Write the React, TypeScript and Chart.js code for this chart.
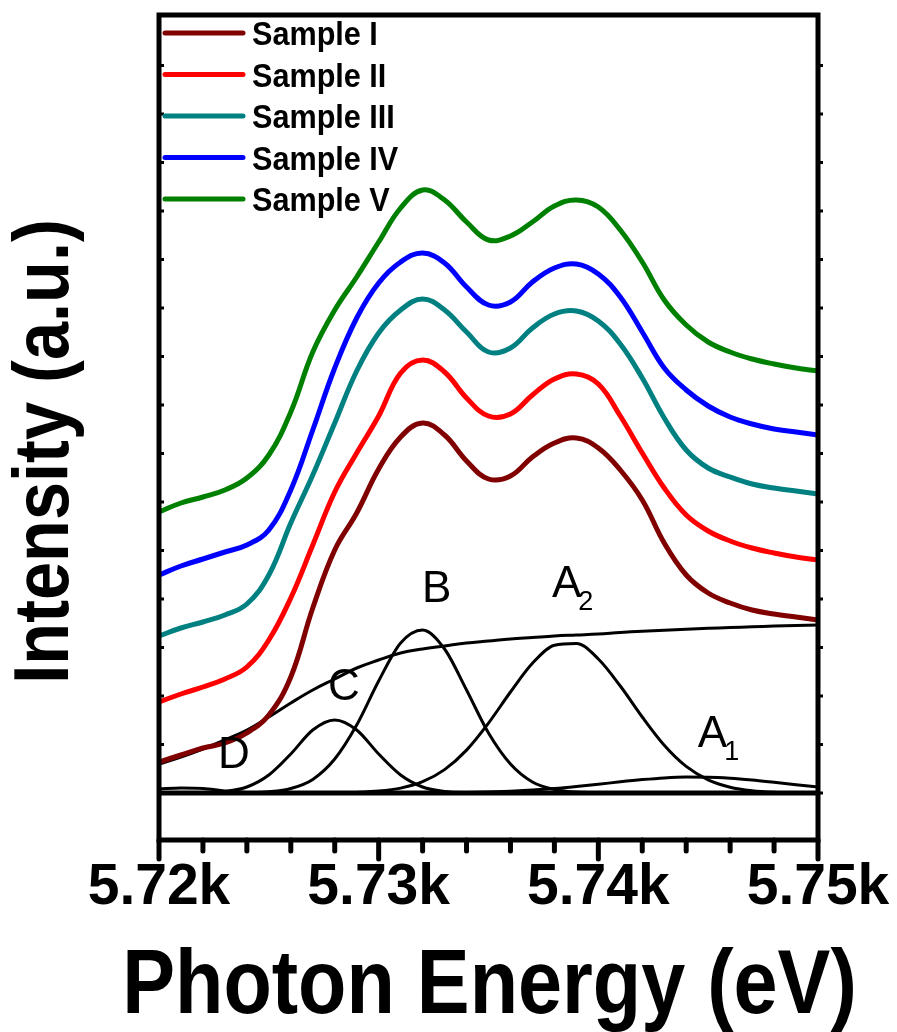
import React, { useEffect, useRef } from "react";
import { Chart, registerables } from "chart.js";

Chart.register(...registerables);

// Photon energy (eV)
const ENERGY = [
  5720, 5721, 5722, 5723, 5724, 5725, 5726, 5727, 5728, 5729, 5730,
  5731, 5732, 5733, 5734, 5735, 5736, 5737, 5738, 5739, 5740,
  5741, 5742, 5743, 5744, 5745, 5746, 5747, 5748, 5749, 5750,
];

// Spectra (arbitrary units, stacked)
const SAMPLE_I = [31, 38, 45, 50, 60, 78, 116, 185, 243, 280, 324, 356, 370, 358, 332, 314, 317, 336, 350, 355, 345, 323, 293, 250, 218, 200, 190, 183, 179, 176, 173];
const SAMPLE_II = [91, 99, 106, 114, 126, 153, 195, 248, 301, 340, 377, 420, 433, 421, 395, 377, 379, 398, 414, 419, 409, 377, 340, 305, 278, 262, 252, 245, 240, 236, 233];
const SAMPLE_III = [157, 165, 171, 178, 189, 218, 270, 318, 370, 422, 460, 483, 494, 483, 461, 441, 445, 465, 479, 482, 472, 449, 415, 375, 343, 325, 316, 309, 305, 302, 299];
const SAMPLE_IV = [218, 227, 234, 241, 248, 263, 303, 363, 425, 475, 510, 531, 540, 530, 506, 488, 491, 511, 525, 529, 519, 496, 461, 425, 403, 387, 376, 369, 364, 361, 358];
const SAMPLE_V = [281, 290, 296, 303, 315, 338, 381, 441, 483, 516, 551, 585, 603, 593, 571, 553, 557, 571, 587, 593, 586, 563, 531, 493, 468, 451, 441, 434, 429, 425, 422];

// Fit components
const STEP_BG = [29, 36, 44, 53, 63, 76, 90, 103, 114, 125, 133, 140, 144, 147, 150, 152, 154, 155.5, 157, 158, 159, 160.5, 161.7, 162.8, 163.8, 164.7, 165.5, 166.2, 166.9, 167.5, 168];
const PEAK_D = [4, 5, 4.5, 2, 0.5, 0, 0, 0, 0, 0, 0, 0, 0, 0, 0, 0, 0, 0, 0, 0, 0, 0, 0, 0, 0, 0, 0, 0, 0, 0, 0];
const PEAK_C = [0, 0, 0.3, 1.5, 6, 18, 39, 63, 73, 63, 39, 18, 6, 1.5, 0.3, 0, 0, 0, 0, 0, 0, 0, 0, 0, 0, 0, 0, 0, 0, 0, 0];
const PEAK_B = [0, 0, 0, 0, 0.3, 1.2, 4.5, 13.6, 34, 68, 112, 150, 163, 144, 103, 60, 29, 11, 3.5, 0.9, 0.2, 0, 0, 0, 0, 0, 0, 0, 0, 0, 0];
const PEAK_A2 = [0, 0, 0, 0, 0, 0, 0, 0, 0, 0.6, 1.9, 4.9, 11.3, 23.4, 42.9, 69.9, 101, 129.7, 147.8, 149.6, 134, 107, 76, 47.8, 26.6, 13.2, 5.8, 2.3, 0.8, 0.3, 0.1];
const PEAK_A1 = [0, 0, 0, 0, 0, 0, 0, 0, 0, 0, 0, 0, 0.1, 0.3, 0.5, 1.0, 1.8, 2.9, 4.4, 6.4, 8.7, 11.2, 13.4, 15.1, 15.9, 15.8, 14.8, 13, 10.7, 8.3, 6.0];
const BASELINE_X = [5720, 5750];
const BASELINE_Y = [0, 0];

const SAMPLE_LABELS = ["Sample I", "Sample II", "Sample III", "Sample IV", "Sample V"];
const SAMPLE_COLORS = ["#800000", "#FF0000", "#008080", "#0000FF", "#008000"];
const SAMPLE_DATA = [SAMPLE_I, SAMPLE_II, SAMPLE_III, SAMPLE_IV, SAMPLE_V];

// Axis ranges and ticks
const X_MIN = 5720;
const X_MAX = 5750;
const X_MAJOR_STEP = 10;
const X_MINOR_STEP = 2;
const Y_MIN = -47;
const Y_MAX = 778;
const Y_TICK_STEP = 48.5;

// Peak labels: text, subscript, energy, intensity of text baseline
const PEAK_LABELS = [
  { text: "D", sub: "", e: 5722.69, v: 25 },
  { text: "C", sub: "", e: 5727.69, v: 93 },
  { text: "B", sub: "", e: 5731.97, v: 191 },
  { text: "A", sub: "2", e: 5737.89, v: 196 },
  { text: "A", sub: "1", e: 5744.53, v: 46 },
];

const X_TITLE = "Photon Energy (eV)";
const Y_TITLE = "Intensity (a.u.)";
const FONT = '"Liberation Sans", Arial, sans-serif';

function pts(ys: number[], xs: number[] = ENERGY) {
  return xs.map((x, i) => ({ x, y: ys[i] }));
}

function condensedText(ctx: CanvasRenderingContext2D, text: string, x: number, y: number, factor: number) {
  const w = ctx.measureText(text).width;
  ctx.fillText(text, x, y, w * factor);
}

const framePlugin = {
  id: "framePlugin",
  afterDraw(chart: any) {
    const { ctx, chartArea, scales } = chart;
    const { left, right, top, bottom } = chartArea;
    const xs = scales.x;
    const ys = scales.y;
    ctx.save();
    ctx.strokeStyle = "#000";
    ctx.lineWidth = 5;
    ctx.lineCap = "round";
    for (let v = X_MIN; v <= X_MAX + 1e-6; v += X_MINOR_STEP) {
      const px = xs.getPixelForValue(v);
      const len = Math.abs(v % X_MAJOR_STEP) < 1e-6 ? 19 : 11;
      ctx.beginPath();
      ctx.moveTo(px, bottom);
      ctx.lineTo(px, bottom + len);
      ctx.stroke();
    }
    ctx.lineCap = "butt";
    ctx.lineWidth = 3;
    for (let v = 0; v <= Y_MAX; v += Y_TICK_STEP) {
      const py = ys.getPixelForValue(v);
      if (py < top + 4) continue;
      ctx.beginPath();
      ctx.moveTo(left, py);
      ctx.lineTo(left + 5, py);
      ctx.moveTo(right, py);
      ctx.lineTo(right + 5, py);
      ctx.stroke();
    }
    ctx.lineWidth = 5;
    ctx.lineJoin = "miter";
    ctx.strokeRect(left, top, right - left, bottom - top);
    ctx.restore();
  },
};

const textPlugin = {
  id: "textPlugin",
  afterDraw(chart: any) {
    const { ctx, chartArea, scales } = chart;
    const { left, right, top, bottom } = chartArea;
    const xs = scales.x;
    const ys = scales.y;
    ctx.save();
    ctx.fillStyle = "#000";

    // Legend
    const lx0 = left + 6;
    const lx1 = left + 84;
    const tx = left + 93;
    for (let i = 0; i < SAMPLE_LABELS.length; i++) {
      const yl = top + 18 + i * 41.5;
      ctx.strokeStyle = SAMPLE_COLORS[i];
      ctx.lineWidth = 5;
      ctx.lineCap = "round";
      ctx.beginPath();
      ctx.moveTo(lx0, yl);
      ctx.lineTo(lx1, yl);
      ctx.stroke();
      ctx.font = `bold 34px ${FONT}`;
      ctx.textAlign = "left";
      ctx.textBaseline = "alphabetic";
      condensedText(ctx, SAMPLE_LABELS[i], tx, yl + 12, 0.9);
    }

    // Peak labels
    ctx.textAlign = "left";
    ctx.textBaseline = "alphabetic";
    for (const p of PEAK_LABELS) {
      const px = xs.getPixelForValue(p.e);
      const py = ys.getPixelForValue(p.v);
      ctx.font = `44px ${FONT}`;
      ctx.fillText(p.text, px, py);
      if (p.sub) {
        const w = ctx.measureText(p.text).width;
        ctx.font = `27px ${FONT}`;
        ctx.fillText(p.sub, px + w - 3, py + 13);
      }
    }

    // X title
    ctx.font = `bold 91px ${FONT}`;
    ctx.textAlign = "center";
    ctx.textBaseline = "alphabetic";
    condensedText(ctx, X_TITLE, (left + right) / 2 + 1, 1013, 0.87);

    // Y title
    ctx.translate(68, (top + bottom) / 2 + 24);
    ctx.rotate(-Math.PI / 2);
    ctx.font = `bold 77px ${FONT}`;
    condensedText(ctx, Y_TITLE, 0, 0, 0.89);
    ctx.restore();
  },
};

export default function App() {
  const canvasRef = useRef<HTMLCanvasElement | null>(null);

  useEffect(() => {
    const canvas = canvasRef.current;
    if (!canvas) return;

    const sampleSets = SAMPLE_DATA.map((arr, i) => ({
      label: SAMPLE_LABELS[i],
      data: pts(arr),
      borderColor: SAMPLE_COLORS[i],
      borderWidth: 5,
      pointRadius: 0,
      tension: 0.4,
      fill: false,
    }));
    const comp = (label: string, arr: number[], smooth: "monotone" | "default") => ({
      label,
      data: pts(arr),
      borderColor: "#000",
      borderWidth: 3,
      pointRadius: 0,
      tension: 0.4,
      cubicInterpolationMode: smooth,
      fill: false,
    });

    const chart = new Chart(canvas, {
      type: "line",
      data: {
        datasets: [
          ...sampleSets,
          comp("Step", STEP_BG, "default"),
          comp("D", PEAK_D, "monotone"),
          comp("C", PEAK_C, "monotone"),
          comp("B", PEAK_B, "monotone"),
          comp("A2", PEAK_A2, "monotone"),
          comp("A1", PEAK_A1, "monotone"),
          {
            label: "Baseline",
            data: pts(BASELINE_Y, BASELINE_X),
            borderColor: "#000",
            borderWidth: 5,
            pointRadius: 0,
            fill: false,
          },
        ],
      },
      options: {
        responsive: false,
        animation: false,
        events: [],
        layout: { padding: { top: 15, right: 79, left: 0, bottom: 0 } },
        plugins: {
          legend: { display: false },
          tooltip: { enabled: false },
          title: { display: false },
        },
        scales: {
          x: {
            type: "linear",
            min: X_MIN,
            max: X_MAX,
            afterFit: (s: any) => {
              s.height = 192;
              s.paddingLeft = 0;
              s.paddingRight = 0;
            },
            ticks: {
              stepSize: X_MAJOR_STEP,
              autoSkip: false,
              maxRotation: 0,
              padding: 14,
              color: "#000",
              font: { family: FONT, weight: "bold", size: 57 },
              callback: (v: any) => (Number(v) / 1000).toFixed(2) + "k",
            },
            grid: { display: false, drawTicks: false },
            border: { display: false },
          },
          y: {
            type: "linear",
            min: Y_MIN,
            max: Y_MAX,
            afterFit: (s: any) => {
              s.width = 159;
            },
            ticks: { display: false, stepSize: Y_TICK_STEP },
            grid: { display: false, drawTicks: false },
            border: { display: false },
          },
        },
      } as any,
      plugins: [framePlugin, textPlugin],
    });

    return () => chart.destroy();
  }, []);

  return (
    <div style={{ position: "fixed", left: 0, top: 0, width: 897, height: 1032, background: "#fff" }}>
      <canvas ref={canvasRef} width={897} height={1032} style={{ display: "block" }} />
    </div>
  );
}
